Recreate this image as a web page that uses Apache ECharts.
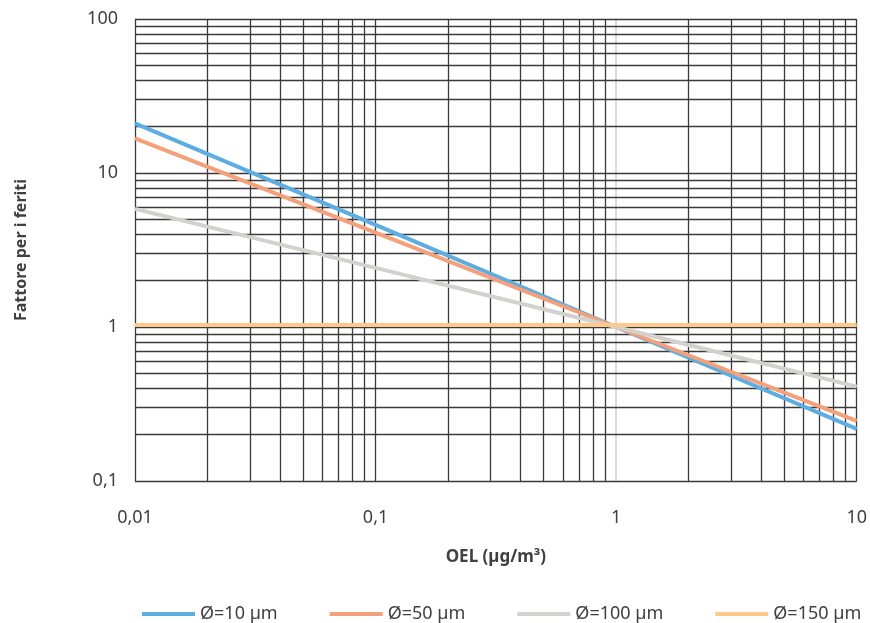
<!DOCTYPE html>
<html lang="it">
<head>
    <meta charset="UTF-8">
    <title>Fattore per i feriti</title>
    <script src="https://cdn.jsdelivr.net/npm/echarts@6/dist/echarts.min.js"></script>
    <style>
        html, body { margin: 0; padding: 0; background: #fff; }
        #chart { width: 870px; height: 623px; }
    </style>
</head>
<body>
    <div id="chart"></div>
    <script>
        // OEL values (µg/m³) where the curves are read
        var oel = [0.01, 0.1, 1, 10];
        var d10 = [21.0, 4.6, 1.0, 0.218];
        var d50 = [16.8, 4.1, 1.0, 0.246];
        var d100 = [5.85, 2.42, 1.0, 0.41];
        var d150 = [1.03, 1.03, 1.03, 1.03];
        var names = ['Ø=10 µm', 'Ø=50 µm', 'Ø=100 µm', 'Ø=150 µm'];
        var colors = ['#5DADE2', '#F4A07A', '#D3D1CD', '#FFC98A'];

        // decades and in-between multiples for the log grid
        var xDecades = [0.01, 0.1, 1, 10];
        var yDecades = [0.1, 1, 10, 100];
        var multiples = [2, 3, 4, 5, 6, 7, 8, 9];

        function pairs(ys) {
            return oel.map(function (x, i) { return [x, ys[i]]; });
        }

        function gridValues(decades) {
            var out = [];
            decades.forEach(function (d, i) {
                out.push(d);
                if (i < decades.length - 1) {
                    multiples.forEach(function (m) { out.push(+(d * m).toPrecision(3)); });
                }
            });
            return out;
        }

        var gridLines = [];
        gridValues(xDecades).forEach(function (v) {
            gridLines.push({
                xAxis: v,
                lineStyle: { color: v === 1 ? '#D9D9D9' : '#3A3A3A', width: v === 1 ? 2 : 1.3, type: 'solid' }
            });
        });
        gridValues(yDecades).forEach(function (v) {
            gridLines.push({ yAxis: v, lineStyle: { color: '#3A3A3A', width: 1.3, type: 'solid' } });
        });

        function fmt(v) {
            return String(+v.toPrecision(3)).replace('.', ',');
        }

        var series = [{
            name: 'grid',
            type: 'line',
            data: [],
            silent: true,
            z: 1,
            markLine: {
                silent: true,
                symbol: ['none', 'none'],
                label: { show: false },
                animation: false,
                data: gridLines
            }
        }];
        [d10, d50, d100, d150].forEach(function (ys, i) {
            series.push({
                name: names[i],
                type: 'line',
                data: pairs(ys),
                showSymbol: false,
                symbol: 'none',
                z: 5 + i,
                lineStyle: { color: colors[i], width: 4 },
                itemStyle: { color: colors[i] }
            });
        });

        var myChart = echarts.init(document.getElementById('chart'));
        var option = {
            animation: false,
            backgroundColor: '#ffffff',
            textStyle: { fontFamily: 'Noto Sans' },
            grid: { left: 135, right: 13, top: 19, bottom: 142 },
            legend: {
                data: names,
                top: 600,
                left: 137,
                icon: 'rect',
                itemWidth: 53,
                itemHeight: 4,
                itemGap: 52,
                textStyle: { fontSize: 18, color: '#404040', fontFamily: 'Noto Sans' }
            },
            xAxis: {
                type: 'log',
                logBase: 10,
                min: 0.01,
                max: 10,
                name: 'OEL (µg/m³)',
                nameLocation: 'middle',
                nameGap: 68,
                nameTextStyle: { fontSize: 17, fontWeight: 'bold', color: '#404040' },
                axisLine: { show: false },
                axisTick: { show: false },
                splitLine: { show: false },
                axisLabel: { fontSize: 18, color: '#404040', margin: 28, formatter: fmt }
            },
            yAxis: {
                type: 'log',
                logBase: 10,
                min: 0.1,
                max: 100,
                name: 'Fattore per i feriti',
                nameLocation: 'middle',
                nameGap: 106,
                nameRotate: 90,
                nameTextStyle: { fontSize: 16, fontWeight: 'bold', color: '#404040' },
                axisLine: { show: false },
                axisTick: { show: false },
                splitLine: { show: false },
                axisLabel: { fontSize: 18, color: '#404040', margin: 17, formatter: fmt }
            },
            series: series
        };
        myChart.setOption(option);
    </script>
</body>
</html>
